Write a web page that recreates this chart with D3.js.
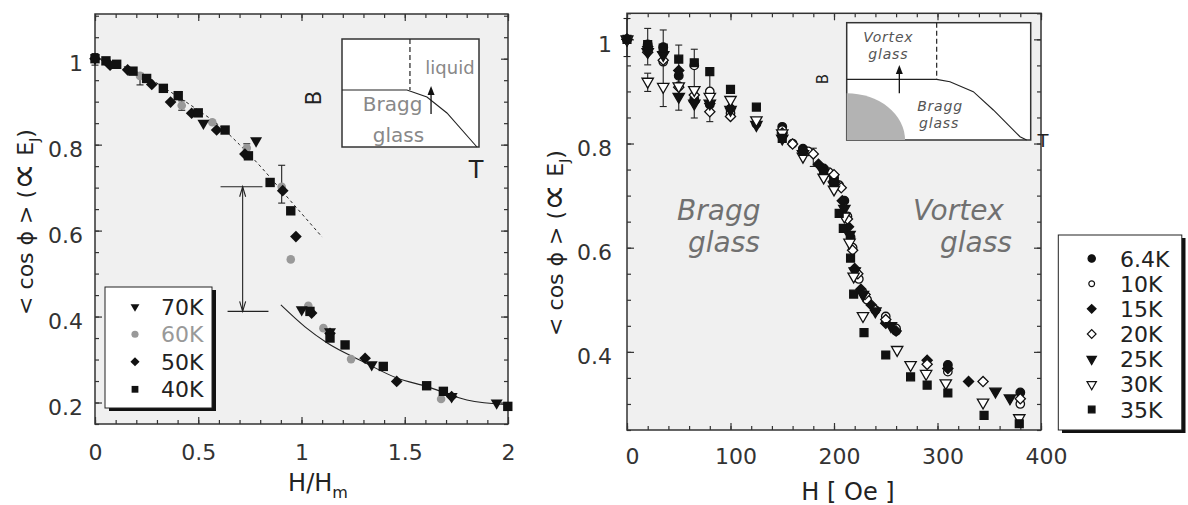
<!DOCTYPE html>
<html><head><meta charset="utf-8">
<script src="https://cdn.jsdelivr.net/npm/d3@7"></script>
<style>body{margin:0;background:#fff} svg{display:block} text{font-family:"DejaVu Sans",sans-serif}</style>
</head><body><svg id="c" width="1188" height="505"></svg>
<script>
// ---------------- DATA: left panel (H/Hm vs <cos phi>) ----------------
const L_NAMES = ["70K","60K","50K","40K"];
const L_70K = [[0.525,0.850],[0.780,0.809],[1.001,0.416],[1.138,0.365],[1.340,0.288],[1.727,0.214],[1.945,0.199]];
const L_60K = [[0.0,1.0],[0.218,0.960],[0.420,0.891],[0.568,0.852],[0.735,0.792],[0.904,0.702],[0.948,0.533],[1.033,0.425],[1.106,0.373],[1.240,0.301],[1.676,0.208]];
const L_50K = [[0.0,1.0],[0.073,0.985],[0.158,0.974],[0.275,0.940],[0.366,0.899],[0.468,0.873],[0.589,0.834],[0.726,0.778],[0.909,0.693],[0.973,0.586],[1.049,0.408],[1.138,0.361],[1.308,0.303],[1.461,0.249],[1.727,0.214]];
const L_40K = [[0.0,1.0],[0.053,0.995],[0.105,0.987],[0.184,0.971],[0.250,0.954],[0.331,0.931],[0.403,0.914],[0.500,0.874],[0.630,0.834],[0.743,0.774],[0.848,0.712],[0.948,0.646],[1.041,0.412],[1.138,0.350],[1.211,0.334],[1.396,0.284],[1.606,0.239],[1.687,0.226],[1.999,0.191]];
const L_ERR = [[0.0,0.985,1.012],[0.218,0.939,0.966],[0.420,0.880,0.902],[0.735,0.780,0.802],[0.904,0.664,0.752]];
const L_DASH = [[0,1.0],[0.2,0.97],[0.4,0.912],[0.5,0.88],[0.6,0.845],[0.7,0.80],[0.8,0.75],[0.9,0.695],[1.0,0.64],[1.1,0.585]];
const L_FIT = [[0.90,0.427],[1.017,0.376],[1.123,0.339],[1.298,0.295],[1.462,0.257],[1.608,0.237],[1.801,0.206],[2.0,0.195]];
const L_JUMP = {x:0.715, top:0.702, bottom:0.412, topBar:[0.608,0.811], bottomBar:[0.642,0.840]};
const L_XTICKS = [0,0.5,1,1.5,2];
const L_YTICKS = [0.2,0.4,0.6,0.8,1];
// left inset (normalized 0..1 schematic)
const LI_LINE = [[0,0.528],[0.474,0.528],[0.62,0.463],[0.766,0.315],[0.985,0.0]];
const LI_DASHX = 0.496, LI_ARROW = [0.65,0.306,0.565];

// ---------------- DATA: right panel (H [Oe] vs <cos phi>) ----------------
const R_NAMES = ["6.4K","10K","15K","20K","25K","30K","35K"];
const R_6_4K = [[0,1.0],[20,0.99],[35,0.985],[50,0.93],[65,0.885],[80,0.875],[100,0.866],[125,0.838],[150,0.832],[170,0.79],[190,0.752],[200,0.735],[210,0.69],[216,0.62],[222,0.55],[230,0.508],[240,0.48],[250,0.458],[260,0.44],[310,0.375],[380,0.322]];
const R_10K = [[0,1.0],[20,0.985],[35,0.957],[50,0.91],[65,0.95],[80,0.90],[100,0.858],[150,0.826],[160,0.80],[175,0.785],[195,0.745],[205,0.72],[213,0.66],[218,0.60],[224,0.54],[232,0.50],[250,0.468],[260,0.445],[310,0.362],[380,0.30]];
const R_15K = [[0,1.0],[20,0.986],[35,0.975],[50,0.94],[65,0.88],[80,0.877],[100,0.868],[150,0.82],[170,0.786],[185,0.76],[200,0.728],[208,0.69],[214,0.64],[220,0.56],[226,0.52],[236,0.49],[250,0.455],[260,0.44],[290,0.384],[310,0.368],[330,0.343]];
const R_20K = [[0,1.0],[20,0.975],[35,0.96],[50,0.908],[65,0.893],[80,0.861],[100,0.852],[150,0.815],[160,0.799],[180,0.78],[200,0.74],[207,0.715],[213,0.655],[218,0.595],[223,0.55],[230,0.51],[240,0.48],[250,0.462],[290,0.376],[344,0.343],[380,0.31]];
const R_25K = [[0,1.0],[20,0.976],[35,0.97],[50,0.89],[65,0.877],[80,0.877],[100,0.865],[125,0.836],[150,0.81],[170,0.78],[190,0.745],[200,0.72],[210,0.675],[215,0.625],[220,0.555],[228,0.51],[240,0.478],[255,0.45],[356,0.324],[370,0.311]];
const R_30K = [[0,1.0],[20,0.919],[35,0.909],[50,0.91],[65,0.903],[80,0.89],[100,0.884],[125,0.845],[150,0.82],[170,0.775],[190,0.735],[200,0.712],[210,0.66],[215,0.61],[219,0.545],[228,0.469],[261,0.404],[274,0.375],[289,0.358],[308,0.340],[344,0.303],[379,0.273]];
const R_35K = [[0,1.0],[20,0.99],[35,0.983],[50,0.962],[65,0.955],[80,0.938],[100,0.904],[125,0.870],[150,0.81],[170,0.785],[190,0.748],[200,0.725],[205,0.666],[209,0.637],[216,0.58],[219,0.511],[229,0.437],[250,0.394],[274,0.352],[290,0.336],[310,0.321],[345,0.278],[379,0.262]];
const R_ERR = [[0,0.967,1.04],[20,0.951,1.021],[20,0.90,0.935],[35,0.871,1.018],[50,0.864,0.989],[65,0.849,0.981],[80,0.842,0.938],[180,0.756,0.791]];
const R_XTICKS = [0,100,200,300,400];
const R_YTICKS = [0.4,0.6,0.8,1];
// right inset (normalized)
const RI_LINE = [[0,0.517],[0.489,0.517],[0.561,0.497],[0.688,0.412],[0.797,0.256],[0.942,0.028],[0.978,0]];
const RI_DASHX = 0.489, RI_ARROW = [0.286,0.398,0.639], RI_BLOB = [0.317,0.398];

// ---------------- DRAWING ----------------
const svg = d3.select("#c");
const INK = "#333";

function symPath(kind, size){
  if(kind==="circle") return d3.symbol(d3.symbolCircle, size)();
  if(kind==="square" || kind==="diamond") return d3.symbol(d3.symbolSquare, size)();
  return d3.symbol(d3.symbolTriangle, size)();
}
function symRot(kind){ return kind==="diamond"?45:(kind==="tri"?180:0); }

function frame(g, x, y, xMinor, xMajor, yMinor, yMajor){
  const [x0,x1]=x.range(), [y0,y1]=y.range();
  g.append("rect").attr("x",x0).attr("y",y1).attr("width",x1-x0).attr("height",y0-y1).attr("fill","#f0f0f0");
  const axes=[[d3.axisBottom(x),xMinor,xMajor,`translate(0,${y0})`],[d3.axisTop(x),xMinor,xMajor,`translate(0,${y1})`],
              [d3.axisLeft(y),yMinor,yMajor,`translate(${x0},0)`],[d3.axisRight(y),yMinor,yMajor,`translate(${x1},0)`]];
  axes.forEach(([ax,mi,ma,tr])=>{
    [[mi,-4],[ma,-7]].forEach(([vals,len])=>{
      const a=g.append("g").attr("transform",tr).call(ax.tickValues(vals).tickSize(len).tickFormat(""));
      a.select(".domain").remove();
      a.selectAll("line").attr("stroke",INK).attr("stroke-width",1.2);
    });
  });
  g.append("rect").attr("x",x0).attr("y",y1).attr("width",x1-x0).attr("height",y0-y1).attr("fill","none").attr("stroke",INK).attr("stroke-width",1.5);
}
function labels(g, x, y, xt, yt, xPad, yPad, xdx){
  const [x0]=x.range(), [y0]=y.range();
  const bx=g.append("g").attr("transform",`translate(0,${y0})`).call(d3.axisBottom(x).tickValues(xt).tickSize(0).tickPadding(xPad).tickFormat(d=>String(d)));
  const ly=g.append("g").attr("transform",`translate(${x0},0)`).call(d3.axisLeft(y).tickValues(yt).tickSize(0).tickPadding(yPad).tickFormat(d=>String(d)));
  [bx,ly].forEach(a=>{a.select(".domain").remove(); a.selectAll("text").attr("font-size",22).attr("fill","#333").attr("font-family","DejaVu Sans");});
  bx.selectAll("text").attr("dx",xdx);
  ly.selectAll("text").attr("dy","0.55em");
}
function points(g, data, x, y, kind, size, fill, stroke){
  g.append("g").selectAll("path").data(data).join("path")
    .attr("d",symPath(kind,size))
    .attr("transform",d=>`translate(${x(d[0])},${y(d[1])}) rotate(${symRot(kind)})`)
    .attr("fill",fill).attr("stroke",stroke).attr("stroke-width",stroke==="none"?0:1.3);
}
function errbars(g, data, x, y, cap){
  const e=g.append("g").attr("stroke","#222").attr("stroke-width",1.1);
  e.selectAll(".v").data(data).join("line").attr("x1",d=>x(d[0])).attr("x2",d=>x(d[0])).attr("y1",d=>y(d[1])).attr("y2",d=>y(d[2]));
  [1,2].forEach(k=>e.selectAll(".c"+k).data(data).join("line").attr("x1",d=>x(d[0])-cap).attr("x2",d=>x(d[0])+cap).attr("y1",d=>y(d[k])).attr("y2",d=>y(d[k])));
}
function ylabel(g, cx, cy){
  const t=g.append("text").attr("transform",`translate(${cx},${cy}) rotate(-90)`).attr("text-anchor","middle")
    .attr("dy","0.35em").attr("font-size",22).attr("fill","#222");
  t.append("tspan").text("< cos \u03D5 >   (");
  t.append("tspan").attr("font-size",38).attr("dy",3).text("\u221D");
  t.append("tspan").attr("dy",-3).text(" E");
  t.append("tspan").attr("font-size",14).attr("dy",6).text("J");
  t.append("tspan").attr("dy",-6).text(")");
}
function arrowUp(g, x, y1, y2){
  g.append("line").attr("x1",x).attr("x2",x).attr("y1",y1).attr("y2",y2+6).attr("stroke","#111").attr("stroke-width",1.3);
  g.append("path").attr("d",`M${x},${y2} L${x-3.5},${y2+9} L${x+3.5},${y2+9}Z`).attr("fill","#111");
}

// ---------- LEFT PANEL ----------
const lx=d3.scaleLinear().domain([0,2]).range([95,508]);
const ly=d3.scaleLinear().domain([0.15,1.104]).range([424,14]);
const gl=svg.append("g");
frame(gl,lx,ly,d3.range(0,2.0001,0.1),L_XTICKS,d3.range(0.15,1.1001,0.05),L_YTICKS);
labels(gl,lx,ly,L_XTICKS,L_YTICKS,20,12,0);

const line=d3.line().x(d=>lx(d[0])).y(d=>ly(d[1])).curve(d3.curveMonotoneX);
gl.append("path").attr("d",line(L_DASH)).attr("fill","none").attr("stroke","#222").attr("stroke-width",1).attr("stroke-dasharray","3,3");
gl.append("path").attr("d",line(L_FIT)).attr("fill","none").attr("stroke","#222").attr("stroke-width",1.1);
errbars(gl,L_ERR,lx,ly,3.5);
points(gl,L_60K,lx,ly,"circle",58,"#999","none");
points(gl,L_70K,lx,ly,"tri",62,"#111","none");
points(gl,L_50K,lx,ly,"diamond",68,"#111","none");
points(gl,L_40K,lx,ly,"square",88,"#111","none");

// jump arrow
(function(){
  const j=L_JUMP, g=gl.append("g").attr("stroke","#222").attr("stroke-width",1.1).attr("fill","none");
  const X=lx(j.x), T=ly(j.top), B=ly(j.bottom);
  g.append("line").attr("x1",X).attr("x2",X).attr("y1",T).attr("y2",B);
  g.append("line").attr("x1",lx(j.topBar[0])).attr("x2",lx(j.topBar[1])).attr("y1",T).attr("y2",T);
  g.append("line").attr("x1",lx(j.bottomBar[0])).attr("x2",lx(j.bottomBar[1])).attr("y1",B).attr("y2",B);
  g.append("path").attr("d",`M${X-3},${T+10} L${X},${T} L${X+3},${T+10}`);
  g.append("path").attr("d",`M${X-3},${B-10} L${X},${B} L${X+3},${B-10}`);
})();

// left legend
(function(){
  const g=gl.append("g");
  g.append("rect").attr("x",109).attr("y",290).attr("width",107).attr("height",121).attr("fill","#111");
  g.append("rect").attr("x",105).attr("y",287).attr("width",107).attr("height",121).attr("fill","#fff").attr("stroke","#222").attr("stroke-width",1);
  const kinds=[["tri",34,"#111"],["circle",40,"#999"],["diamond",42,"#111"],["square",46,"#111"]];
  const ys=d3.scaleLinear().domain([0,3]).range([306.7,389.3]);
  L_NAMES.forEach((n,i)=>{
    const [k,s,c]=kinds[i];
    g.append("path").attr("d",symPath(k,s)).attr("transform",`translate(135,${ys(i)}) rotate(${symRot(k)})`).attr("fill",c);
    g.append("text").attr("x",161).attr("y",ys(i)+8).attr("font-size",22).attr("fill",i===1?"#999":"#222").text(n);
  });
})();

// left inset
(function(){
  const ix=d3.scaleLinear().domain([0,1]).range([342,479]);
  const iy=d3.scaleLinear().domain([0,1]).range([147,39]);
  const g=gl.append("g");
  g.append("rect").attr("x",342).attr("y",39).attr("width",137).attr("height",108).attr("fill","#fff").attr("stroke","#333").attr("stroke-width",1.5);
  g.append("path").attr("d",d3.line().x(d=>ix(d[0])).y(d=>iy(d[1]))(LI_LINE)).attr("fill","none").attr("stroke","#222").attr("stroke-width",1.1);
  g.append("line").attr("x1",ix(LI_DASHX)).attr("x2",ix(LI_DASHX)).attr("y1",iy(1)).attr("y2",iy(0.528)).attr("stroke","#222").attr("stroke-width",1.2).attr("stroke-dasharray","5,3");
  arrowUp(g,ix(LI_ARROW[0]),iy(LI_ARROW[1]),iy(LI_ARROW[2]));
  g.append("text").attr("x",450).attr("y",iy(0.74)+7).attr("text-anchor","middle").attr("font-size",18).attr("fill","#888").text("liquid");
  g.append("text").attr("x",ix(0.369)).attr("y",iy(0.389)+6).attr("text-anchor","middle").attr("font-size",20).attr("fill","#888").text("Bragg");
  g.append("text").attr("x",ix(0.412)).attr("y",iy(0.10)+6).attr("text-anchor","middle").attr("font-size",20).attr("fill","#888").text("glass");
  g.append("text").attr("transform","translate(313,98) rotate(-90)").attr("text-anchor","middle").attr("dy","0.36em").attr("font-size",21).attr("fill","#222").text("B");
  g.append("text").attr("x",476).attr("y",178).attr("text-anchor","middle").attr("font-size",24).attr("fill","#222").text("T");
})();
ylabel(gl,25,222);
(function(){
  const t=gl.append("text").attr("x",318).attr("y",491).attr("text-anchor","middle").attr("font-size",24).attr("fill","#222");
  t.append("tspan").text("H/H");
  t.append("tspan").attr("font-size",16).attr("dy",7).text("m");
})();

// ---------- RIGHT PANEL ----------
const rx=d3.scaleLinear().domain([0,400]).range([627,1041]);
const ry=d3.scaleLinear().domain([0.25,1.05]).range([430,13.3]);
const gr=svg.append("g");
frame(gr,rx,ry,d3.range(0,400.1,20),R_XTICKS,d3.range(0.25,1.0501,0.05),R_YTICKS);
labels(gr,rx,ry,R_XTICKS,R_YTICKS,18,15,5);

// big region labels
[["Bragg",677,220],["glass",688,252],["Vortex",913,220],["glass",940,252]].forEach(([s,x,y])=>{
  gr.append("text").attr("x",x).attr("y",y).attr("font-family","Liberation Sans").attr("font-style","italic").attr("font-size",28).attr("fill","#707070").text(s);
});

errbars(gr,R_ERR,rx,ry,3.5);
const R_STYLE=[[R_6_4K,"circle",58,"#111"],[R_10K,"circle",56,"#fff"],[R_15K,"diamond",52,"#111"],[R_20K,"diamond",52,"#fff"],[R_25K,"tri",56,"#111"],[R_30K,"tri",56,"#fff"],[R_35K,"square",62,"#111"]];
R_STYLE.forEach(([d,k,s,f])=>points(gr,d,rx,ry,k,s,f,"#111"));

// right inset
(function(){
  const ix=d3.scaleLinear().domain([0,1]).range([846.7,1030.7]);
  const iy=d3.scaleLinear().domain([0,1]).range([140,22.7]);
  const g=gr.append("g");
  g.append("rect").attr("x",846.7).attr("y",22.7).attr("width",184).attr("height",117.3).attr("fill","#fff").attr("stroke","#333").attr("stroke-width",1.5);
  const rxp=ix(RI_BLOB[0])-ix(0), ryp=iy(0)-iy(RI_BLOB[1]);
  g.append("path").attr("d",`M${ix(0)},${iy(0)} L${ix(0)},${iy(0)-ryp} A${rxp},${ryp} 0 0 1 ${ix(0)+rxp},${iy(0)} Z`).attr("fill","#b3b3b3");
  g.append("path").attr("d",d3.line().x(d=>ix(d[0])).y(d=>iy(d[1]))(RI_LINE)).attr("fill","none").attr("stroke","#222").attr("stroke-width",1.1);
  g.append("line").attr("x1",ix(RI_DASHX)).attr("x2",ix(RI_DASHX)).attr("y1",iy(1)).attr("y2",iy(0.517)).attr("stroke","#222").attr("stroke-width",1.2).attr("stroke-dasharray","5,3");
  arrowUp(g,ix(RI_ARROW[0]),iy(RI_ARROW[1]),iy(RI_ARROW[2]));
  [["Vortex",0.226,0.876],["glass",0.226,0.730],["Bragg",0.507,0.293],["glass",0.502,0.147]].forEach(([s,a,b])=>{
    g.append("text").attr("x",ix(a)).attr("y",iy(b)+5).attr("text-anchor","middle").attr("font-family","Liberation Sans").attr("font-style","italic")
      .attr("font-size",14).attr("letter-spacing",0.8).attr("fill","#555").text(s);
  });
  g.append("text").attr("transform","translate(823,79) rotate(-90)").attr("text-anchor","middle").attr("dy","0.36em").attr("font-size",15).attr("fill","#222").text("B");
  g.append("text").attr("x",1043).attr("y",147).attr("text-anchor","middle").attr("font-size",18).attr("fill","#222").text("T");
})();

// right legend
(function(){
  const g=gr.append("g");
  g.append("rect").attr("x",1062).attr("y",238).attr("width",123.5).attr("height",195).attr("fill","#111");
  g.append("rect").attr("x",1058.3).attr("y",235).attr("width",123.5).attr("height",195).attr("fill","#fff").attr("stroke","#222").attr("stroke-width",1);
  const ys=d3.scaleLinear().domain([0,6]).range([258.5,409.5]);
  R_NAMES.forEach((n,i)=>{
    const [,k,s,f]=R_STYLE[i];
    const sz=k==="circle"?(f==="#fff"?26:42):(k==="square"?44:38);
    g.append("path").attr("d",symPath(k,sz)).attr("transform",`translate(1091.7,${ys(i)}) rotate(${symRot(k)})`).attr("fill",f).attr("stroke","#111").attr("stroke-width",1.2);
    g.append("text").attr("x",1120).attr("y",ys(i)+8).attr("font-size",22).attr("fill","#222").text(n);
  });
})();
ylabel(gr,555,243);
gr.append("text").attr("x",848).attr("y",500).attr("text-anchor","middle").attr("font-size",24).attr("fill","#222").text("H [ Oe ]");
</script></body></html>
